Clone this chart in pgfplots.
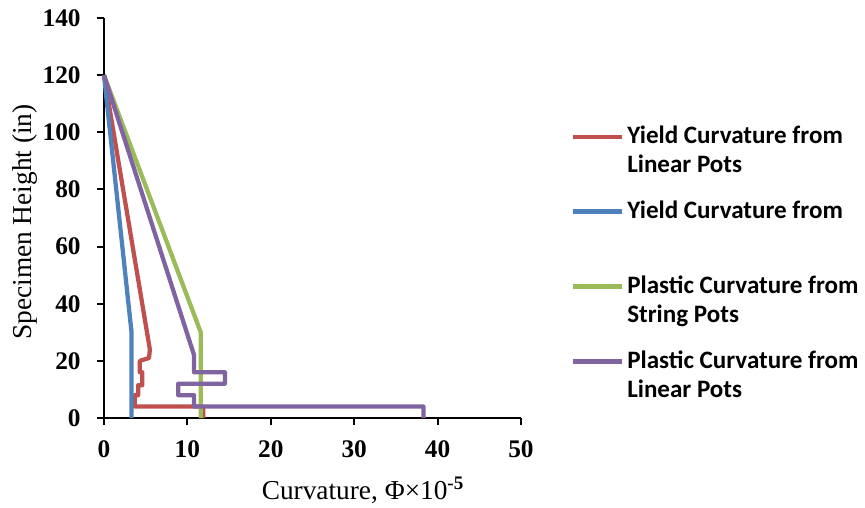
\documentclass[border=0pt]{standalone}
\usepackage{pgfplots}
\pgfplotsset{compat=1.18}
\usepackage{fontspec}
\setmainfont{Liberation Serif}
\newfontfamily\legfont{Carlito}
\definecolor{cred}{HTML}{C0504D}
\definecolor{cblue}{HTML}{4F81BD}
\definecolor{cgreen}{HTML}{9BBB59}
\definecolor{cpurple}{HTML}{8064A2}
\begin{document}
\begin{tikzpicture}
\begin{axis}[name=main,
  scale only axis, width=312.75pt, height=300pt,
  xmin=0, xmax=50, ymin=0, ymax=140,
  axis lines=left,
  axis line style={-, line width=1.5pt, black},
  xtick={0,10,...,50}, ytick={0,20,...,140},
  tick style={black, line width=1.5pt},
  tick align=outside, major tick length=5pt,
  /pgf/number format/assume math mode=true,
  ticklabel style={font=\bfseries\fontsize{19}{19}\selectfont},
  xticklabel style={yshift=-8.5pt},
  yticklabel style={xshift=-9pt},
  xlabel={Curvature, Φ×10\textsuperscript{\bfseries -5}},
  ylabel={Specimen Height (in)},
  label style={font=\fontsize{20.5}{20.5}\selectfont},
  xlabel style={at={(axis description cs:0.621,-0.18)}, anchor=center},
  ylabel style={at={(axis description cs:-0.1887,0.49)}, anchor=center},
  legend style={at={(rel axis cs:1.1199,0.7425)}, anchor=north west,
    draw=none, fill=none, inner sep=0pt, outer sep=0pt,
    row sep=35.5pt, column sep=0pt,
    cells={anchor=base west, inner sep=0pt},
    font=\legfont\bfseries\fontsize{18.8}{21.75}\selectfont},
  legend image code/.code={\draw[#1] (0pt,5.5pt) -- (37pt,5.5pt);},
  every axis plot/.append style={line width=3.2pt, line join=round},
  clip=false,
]
\addplot[cred] coordinates {(0,120) (5.5,24) (5.4,21) (4.3,20) (4.3,16) (4.6,16) (4.6,11.5) (4.1,11.5) (4.1,8) (3.7,8) (3.7,4) (11.9,4) (11.9,0)};
\addlegendentry{\begin{tabular}[t]{@{}l@{}}Yield Curvature from\\Linear Pots\end{tabular}}
\addplot[cblue] coordinates {(0,120) (3.3,30) (3.3,0)};
\addlegendentry{\begin{tabular}[t]{@{}l@{}}Yield Curvature from\\ \mbox{}\end{tabular}}
\addplot[cgreen] coordinates {(0,120) (11.6,30) (11.6,0)};
\addlegendentry{\begin{tabular}[t]{@{}l@{}}Plastic Curvature from\\String Pots\end{tabular}}
\addplot[cpurple] coordinates {(0,120) (10.8,22) (10.8,16) (14.5,16) (14.5,12) (8.9,12) (8.9,8) (10.8,8) (10.8,4) (38.3,4) (38.3,0)};
\addlegendentry{\begin{tabular}[t]{@{}l@{}}Plastic Curvature from\\Linear Pots\end{tabular}}
\end{axis}
\path (main.south west) ++(-78pt,-66pt) rectangle ++(648.75pt,379.5pt);
\end{tikzpicture}
\end{document}
